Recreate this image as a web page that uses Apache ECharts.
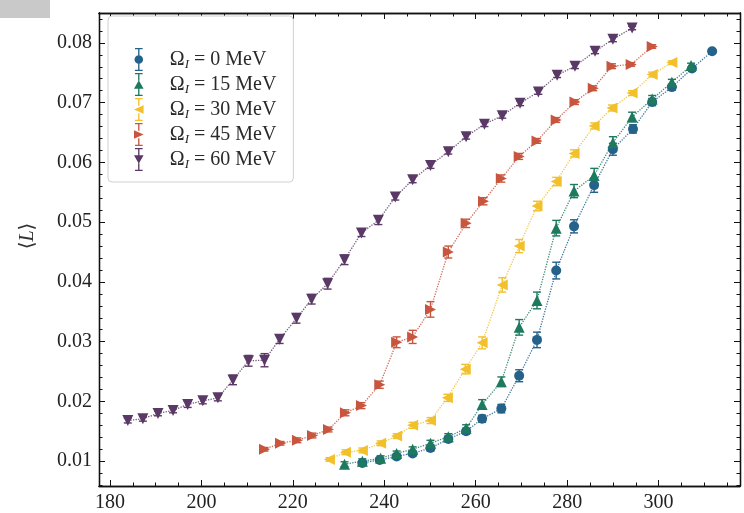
<!DOCTYPE html>
<html><head><meta charset="utf-8">
<script src="https://cdn.jsdelivr.net/npm/echarts@6/dist/echarts.min.js"></script>
<style>html,body{margin:0;padding:0;background:#fff}#c{width:744px;height:513px}</style>
</head><body><div id="c"></div>
<script>
// ---- data ----
const energies = ['0', '15', '30', '45', '60'];
const seriesNames = ['Ω_I = 0 MeV', 'Ω_I = 15 MeV', 'Ω_I = 30 MeV', 'Ω_I = 45 MeV', 'Ω_I = 60 MeV'];
const xTicks = [180, 200, 220, 240, 260, 280, 300];
const yTicks = [0.01, 0.02, 0.03, 0.04, 0.05, 0.06, 0.07, 0.08];

const T0 = [235.2,239.0,242.7,246.2,250.1,254.0,257.9,261.4,265.6,269.5,273.4,277.6,281.5,285.9,290.0,294.4,298.6,302.9,307.3,311.7];
const L0 = [0.0097,0.0102,0.0108,0.0113,0.0122,0.0137,0.0150,0.0171,0.0188,0.0243,0.0303,0.0419,0.0493,0.0562,0.0622,0.0656,0.0701,0.0726,0.0757,0.0786];
const E0 = [0.0004,0.0004,0.0004,0.0004,0.0005,0.0005,0.0005,0.0006,0.0007,0.0010,0.0013,0.0014,0.0011,0.0012,0.0010,0.0007,0.0006,0.0005,0.0004,0.0003];

const T15 = [231.3,235.2,239.2,242.7,246.2,250.1,254.0,257.9,261.4,265.6,269.5,273.4,277.6,281.5,285.9,290.0,294.2,298.6,302.9,307.1];
const L15 = [0.0095,0.0100,0.0105,0.0113,0.0120,0.0130,0.0141,0.0155,0.0195,0.0233,0.0324,0.0369,0.0490,0.0552,0.0578,0.0633,0.0676,0.0706,0.0734,0.0762];
const E15 = [0.0004,0.0004,0.0004,0.0004,0.0004,0.0005,0.0005,0.0006,0.0008,0.0008,0.0013,0.0014,0.0013,0.0011,0.0012,0.0010,0.0008,0.0006,0.0005,0.0004];

const T30 = [228.0,231.5,235.2,239.2,242.7,246.2,250.1,253.8,257.7,261.4,265.8,269.5,273.4,277.6,281.5,285.9,289.8,294.2,298.6,302.9];
const L30 = [0.0103,0.0115,0.0118,0.0130,0.0142,0.0160,0.0168,0.0206,0.0254,0.0298,0.0395,0.0460,0.0527,0.0568,0.0615,0.0661,0.0691,0.0716,0.0747,0.0767];
const E30 = [0.0003,0.0004,0.0004,0.0004,0.0004,0.0005,0.0005,0.0006,0.0008,0.0010,0.0012,0.0011,0.0008,0.0007,0.0006,0.0005,0.0005,0.0004,0.0004,0.0003];

const T45 = [213.8,217.3,221.0,224.3,227.8,231.5,235.0,239.0,242.7,246.2,250.1,254.0,257.9,261.7,265.6,269.5,273.4,277.6,281.7,285.7,289.8,294.0,298.6];
const L45 = [0.0120,0.0130,0.0135,0.0143,0.0153,0.0181,0.0193,0.0228,0.0299,0.0308,0.0354,0.0450,0.0498,0.0535,0.0573,0.0610,0.0636,0.0671,0.0701,0.0724,0.0761,0.0764,0.0794];
const E45 = [0.0003,0.0003,0.0004,0.0004,0.0004,0.0005,0.0005,0.0006,0.0009,0.0011,0.0013,0.0010,0.0007,0.0006,0.0006,0.0005,0.0004,0.0004,0.0004,0.0004,0.0004,0.0003,0.0003];

const T60 = [183.9,187.2,190.5,193.8,197.0,200.3,203.6,206.9,210.3,213.8,217.1,220.8,224.1,227.6,231.3,235.0,238.7,242.4,246.2,250.1,254.0,257.9,261.9,265.8,269.7,273.7,277.8,281.7,286.1,290.0,294.2];
const L60 = [0.0168,0.0171,0.0180,0.0185,0.0195,0.0201,0.0206,0.0236,0.0268,0.0269,0.0304,0.0339,0.0371,0.0397,0.0437,0.0482,0.0503,0.0542,0.0571,0.0595,0.0618,0.0643,0.0664,0.0678,0.0699,0.0718,0.0746,0.0761,0.0786,0.0806,0.0825];
const E60 = [0.0004,0.0004,0.0004,0.0004,0.0005,0.0005,0.0005,0.0008,0.0009,0.0011,0.0007,0.0008,0.0008,0.0009,0.0008,0.0006,0.0007,0.0005,0.0005,0.0005,0.0004,0.0004,0.0004,0.0004,0.0004,0.0004,0.0004,0.0004,0.0004,0.0004,0.0003];

const allT = [T0, T15, T30, T45, T60];
const allL = [L0, L15, L30, L45, L60];
const allE = [E0, E15, E30, E45, E60];

// ---- styling ----
const colors = ['#24628a', '#1d7a5e', '#f1c02b', '#c8563f', '#5b3966'];
const markerSymbols = [
  'circle',
  'triangle',
  'path://M0 5 L10 0 L10 10 Z',
  'path://M10 5 L0 0 L0 10 Z',
  'path://M0 0 L10 0 L5 10 Z'
];
const markerSizes = [10, 11, 11, 11, 11];
const bar = 'M5.3 1 L6.7 1 L6.7 8 L5.3 8 Z M2 0 L10 0 L10 1.3 L2 1.3 Z M5.3 16 L6.7 16 L6.7 23 L5.3 23 Z M2 22.7 L10 22.7 L10 24 L2 24 Z ';
const legendIcons = [
  'path://' + bar + 'M1.5 12 A4.5 4.5 0 1 1 10.5 12 A4.5 4.5 0 1 1 1.5 12 Z',
  'path://' + bar + 'M6 7.5 L11 16.5 L1 16.5 Z',
  'path://' + bar + 'M1 12 L11 7.5 L11 16.5 Z',
  'path://' + bar + 'M11 12 L1 7.5 L1 16.5 Z',
  'path://' + bar + 'M1 7.5 L11 7.5 L6 16.5 Z'
];

const font = "'Liberation Serif', 'DejaVu Serif', serif";
const xMin = 177.6, xMax = 317.8, yMin = 0.00585, yMax = 0.0850;

const xMinor = [], yMinor = [];
for (let v = 180; v <= xMax; v += 5) if (v % 20 !== 0) xMinor.push(v);
for (let k = 3; k <= 42; k++) { const v = k * 0.002; if (k % 5 !== 0 && v >= yMin && v <= yMax) yMinor.push(+v.toFixed(4)); }

function mkX(pos, ticks, len, labels) {
  return {
    type: 'value', position: pos, min: xMin, max: xMax,
    axisLine: { show: true, onZero: false, lineStyle: { color: '#111', width: 1.3 } },
    axisTick: { show: true, inside: true, length: len, customValues: ticks, lineStyle: { color: '#111', width: 1 } },
    axisLabel: labels ? { show: true, customValues: ticks, margin: 7, color: '#222', fontFamily: font, fontSize: 20 } : { show: false },
    splitLine: { show: false }
  };
}
function mkY(pos, ticks, len, labels) {
  return {
    type: 'value', position: pos, min: yMin, max: yMax,
    axisLine: { show: true, onZero: false, lineStyle: { color: '#111', width: 1.3 } },
    axisTick: { show: true, inside: true, length: len, customValues: ticks, lineStyle: { color: '#111', width: 1 } },
    axisLabel: labels ? { show: true, customValues: ticks, margin: 7, color: '#222', fontFamily: font, fontSize: 20,
      formatter: v => v.toFixed(2) } : { show: false },
    splitLine: { show: false }
  };
}

const series = [];
for (let i = 0; i < 5; i++) {
  const pts = allT[i].map((t, j) => [t, allL[i][j]]);
  const errPts = allT[i].map((t, j) => [t, allL[i][j], allE[i][j]]);
  series.push({
    type: 'custom', name: seriesNames[i] + ' err', xAxisIndex: 0, yAxisIndex: 0,
    data: errPts, z: 3, silent: true,
    renderItem: function (params, api) {
      const x = api.value(0), y = api.value(1), e = api.value(2);
      const p1 = api.coord([x, y - e]), p2 = api.coord([x, y + e]);
      const st = { stroke: colors[i], lineWidth: 1.4 };
      return { type: 'group', children: [
        { type: 'line', shape: { x1: p1[0], y1: p1[1], x2: p2[0], y2: p2[1] }, style: st },
        { type: 'line', shape: { x1: p1[0] - 4, y1: p1[1], x2: p1[0] + 4, y2: p1[1] }, style: st },
        { type: 'line', shape: { x1: p2[0] - 4, y1: p2[1], x2: p2[0] + 4, y2: p2[1] }, style: st }
      ] };
    }
  });
  series.push({
    type: 'line', name: seriesNames[i], xAxisIndex: 0, yAxisIndex: 0,
    data: pts, z: 4,
    symbol: markerSymbols[i], symbolSize: markerSizes[i], showAllSymbol: true,
    itemStyle: { color: colors[i], opacity: 1 },
    lineStyle: { color: colors[i], width: 1.3, type: 'dotted', opacity: 0.85 },
    emphasis: { disabled: true }
  });
}

const chart = echarts.init(document.getElementById('c'), null, { renderer: 'canvas' });
chart.setOption({
  animation: false,
  backgroundColor: '#fff',
  grid: { left: 99, right: 4, top: 13, bottom: 23, containLabel: false },
  xAxis: [mkX('bottom', xTicks, 6, true), mkX('bottom', xMinor, 3.5, false), mkX('top', xTicks, 6, false), mkX('top', xMinor, 3.5, false)],
  yAxis: [mkY('left', yTicks, 6, true), mkY('left', yMinor, 3.5, false), mkY('right', yTicks, 6, false), mkY('right', yMinor, 3.5, false)],
  legend: {
    left: 108, top: 16, orient: 'vertical',
    data: seriesNames.map((n, i) => ({ name: n, icon: legendIcons[i] })),
    itemWidth: 12, itemHeight: 23, itemGap: 2, symbolRotate: 0,
    padding: [32, 17, 11, 26],
    backgroundColor: '#fff', borderColor: '#d0d0d0', borderWidth: 1, borderRadius: 4,
    selectedMode: false,
    formatter: function (name) {
      const idx = seriesNames.indexOf(name);
      return '{o|Ω}{s|I}{t| = ' + energies[idx] + ' MeV}';
    },
    textStyle: {
      color: '#2a2a2a', fontFamily: font, fontSize: 20,
      rich: {
        o: { fontFamily: font, fontSize: 20, lineHeight: 23, color: '#2a2a2a', padding: [0, 0, 0, 20] },
        s: { fontFamily: font, fontSize: 13, fontStyle: 'italic', lineHeight: 13, verticalAlign: 'bottom', color: '#2a2a2a' },
        t: { fontFamily: font, fontSize: 20, lineHeight: 23, color: '#2a2a2a' }
      }
    }
  },
  graphic: [
    { type: 'rect', left: 0, top: 0, shape: { width: 50, height: 18 }, style: { fill: '#c9c9c9' }, silent: true },
    { type: 'text', x: 28, y: 236, rotation: Math.PI / 2,
      style: { text: '⟨{i|L}⟩', fontFamily: font, fontSize: 20, fill: '#333', align: 'center', verticalAlign: 'middle',
        rich: { i: { fontFamily: font, fontSize: 20, fontStyle: 'italic', fill: '#333' } } } }
  ],
  series: series
});
</script>
</body></html>
